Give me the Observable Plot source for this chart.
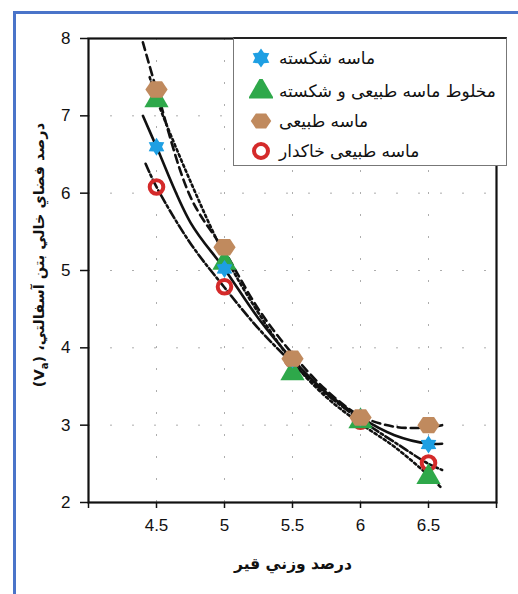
<!DOCTYPE html>
<html><head><meta charset="utf-8">
<script src="https://cdn.jsdelivr.net/npm/d3@7"></script>
<script src="https://cdn.jsdelivr.net/npm/@observablehq/plot@0.6"></script>
<style>
body{margin:0;background:#fff;width:518px;height:594px;overflow:hidden;position:relative;}
#bframe{position:absolute;left:13px;top:11px;width:520px;height:600px;border-left:3px solid #4a74c9;border-top:3px solid #4a74c9;}
#chart{position:absolute;left:0;top:0;}
#legend{position:absolute;left:233px;top:37px;width:274px;height:129px;background:#fff;border:1px solid #777;border-top:2px solid #222;box-sizing:border-box;}
.row{position:absolute;left:0;height:24px;display:flex;align-items:center;}
.row span{font-family:"DejaVu Sans",sans-serif;font-size:17px;color:#111;margin-left:6px;}
</style></head>
<body>
<div id="bframe"></div>
<div id="chart"></div>
<div id="legend"></div>
<script>
// ---- data ----
const bitumen = [4.5, 5, 5.5, 6, 6.5];
const crushed = [6.6, 5.02, 3.85, 3.1, 2.75];
const mixed   = [7.2, 5.1, 3.67, 3.05, 2.33];
const natural = [7.34, 5.3, 3.86, 3.1, 3.0];
const clayey  = [6.08, 4.79, 3.85, 3.05, 2.51];

const crushedFitX = [4.4, 4.5, 4.75, 5, 5.25, 5.5, 5.75, 6, 6.25, 6.5, 6.6];
const crushedFitY = [7.0, 6.6, 5.62, 5.02, 4.38, 3.85, 3.42, 3.1, 2.87, 2.76, 2.76];
const mixedFitX   = [4.45, 4.5, 4.75, 5, 5.25, 5.5, 5.75, 6, 6.25, 6.5, 6.6];
const mixedFitY   = [7.5, 7.22, 6.15, 5.2, 4.45, 3.82, 3.36, 3.02, 2.72, 2.35, 2.18];
const naturalFitX = [4.4, 4.5, 4.75, 5, 5.25, 5.5, 5.75, 6, 6.25, 6.5, 6.6];
const naturalFitY = [7.95, 7.34, 5.95, 5.25, 4.5, 3.92, 3.45, 3.12, 2.98, 2.97, 3.0];
const clayeyFitX  = [4.42, 4.5, 4.75, 5, 5.25, 5.5, 5.75, 6, 6.25, 6.5, 6.6];
const clayeyFitY  = [6.38, 6.08, 5.35, 4.78, 4.25, 3.8, 3.4, 3.07, 2.78, 2.5, 2.42];

const xTicks = [4, 4.5, 5, 5.5, 6, 6.5, 7];
const yTicks = [2, 3, 4, 5, 6, 7, 8];
const seriesNames = ["ماسه شکسته", "مخلوط ماسه طبیعی و شکسته", "ماسه طبیعی", "ماسه طبیعی خاکدار"];
const xTitle = "درصد وزني قير";
const yTitle = "درصد فضاي خالي بتن آسفالتي،";

const colors = {crushed:"#1e9fe3", mixed:"#2ea84a", natural:"#c08a5e", clayey:"#d42a2a"};

const hexagram = {draw(ctx, size){
  const R = Math.sqrt(size/Math.PI)*1.2, r = R*0.62;
  for(let i=0;i<12;i++){const a=i*Math.PI/6 - Math.PI/2; const rr=i%2?r:R;
    const px=rr*Math.cos(a), py=rr*Math.sin(a); if(i===0) ctx.moveTo(px,py); else ctx.lineTo(px,py);}
  ctx.closePath();
}};
const flatHex = {draw(ctx, size){
  const R = Math.sqrt(size/Math.PI);
  for(let i=0;i<6;i++){const a=i*Math.PI/3; const px=R*1.08*Math.cos(a), py=R*0.92*Math.sin(a);
    if(i===0) ctx.moveTo(px,py); else ctx.lineTo(px,py);}
  ctx.closePath();
}};

const pts = (ys) => bitumen.map((x,i)=>({x, y:ys[i]}));
const fit = (xs, ys) => xs.map((x,i)=>({x, y:ys[i]}));
const lineOpts = {x:"x", y:"y", curve:"catmull-rom", stroke:"#111", strokeWidth:2.6};

const chart = Plot.plot({
  width:518, height:594, marginLeft:88, marginRight:22, marginTop:38, marginBottom:92,
  style:{fontFamily:"'Liberation Sans', Arial, sans-serif", fontSize:"17px", background:"transparent", color:"#111"},
  x:{domain:[4,7]}, y:{domain:[2,8]},
  marks:[
    Plot.gridX([4.5,5,5.5,6,6.5], {stroke:"#999", strokeOpacity:0.8, strokeDasharray:"2,20"}),
    Plot.gridY([3,4,5,6,7], {stroke:"#999", strokeOpacity:0.8, strokeDasharray:"2,20"}),
    Plot.axisX({ticks:xTicks, tickFormat:d => (d===4||d===7) ? "" : String(d), tickSize:6, tickPadding:10, label:null, strokeWidth:1.5}),
    Plot.axisY({ticks:yTicks, tickFormat:d=>String(d), tickSize:8, tickPadding:10, label:null, strokeWidth:1.5}),
    Plot.line(fit(naturalFitX, naturalFitY), {...lineOpts, strokeDasharray:"8,5"}),
    Plot.line(fit(mixedFitX, mixedFitY), {...lineOpts, strokeDasharray:"2.5,3"}),
    Plot.line(fit(crushedFitX, crushedFitY), {...lineOpts}),
    Plot.line(fit(clayeyFitX, clayeyFitY), {...lineOpts, strokeDasharray:"9,3,2.5,3"}),
    Plot.dot(pts(clayey), {x:"x", y:"y", r:6.8, stroke:colors.clayey, strokeWidth:4, fill:"none"}),
    Plot.dot(pts(mixed), {x:"x", y:"y", r:9, symbol:"triangle", fill:colors.mixed, stroke:"none"}),
    Plot.dot(pts(crushed), {x:"x", y:"y", r:7.5, symbol:hexagram, fill:colors.crushed, stroke:"none"}),
    Plot.dot(pts(natural), {x:"x", y:"y", r:10.3, symbol:flatHex, fill:colors.natural, stroke:"none"}),
    Plot.frame({stroke:"#111", strokeWidth:2.2})
  ]
});
document.getElementById("chart").appendChild(chart);

const svg = d3.select(chart);
svg.append("text")
  .attr("x", 293).attr("y", 569).attr("text-anchor","middle")
  .attr("font-family","'DejaVu Sans', sans-serif").attr("font-weight","bold").attr("font-size",15.5)
  .attr("fill","#111").attr("direction","rtl").text(xTitle);
const yt = svg.append("text")
  .attr("transform","translate(44,255) rotate(-90)").attr("text-anchor","middle")
  .attr("font-family","'DejaVu Sans', sans-serif").attr("font-weight","bold").attr("font-size",14.5)
  .attr("fill","#111").attr("direction","ltr");
yt.append("tspan").text("(V");
yt.append("tspan").attr("font-size",10).attr("dy",4).text("a");
yt.append("tspan").attr("dy",-4).text(") " + yTitle + "\u200F");

// legend
const leg = d3.select("#legend");
const legSyms = [
  {sym:hexagram, r:8, fill:colors.crushed, stroke:"none", sw:0},
  {sym:d3.symbolTriangle, r:9.5, fill:colors.mixed, stroke:"none", sw:0},
  {sym:flatHex, r:9.5, fill:colors.natural, stroke:"none", sw:0},
  {sym:d3.symbolCircle, r:7, fill:"none", stroke:colors.clayey, sw:4}
];
const rowTops = [7, 40, 70, 100];
seriesNames.forEach((name,i)=>{
  const row = leg.append("div").attr("class","row").style("top", rowTops[i]+"px").style("left","15px");
  const s = row.append("svg").attr("width",24).attr("height",24);
  const o = legSyms[i];
  const d = d3.symbol(o.sym, o.r*o.r*Math.PI)();
  s.append("path").attr("transform","translate(12,12)").attr("d",d)
    .attr("fill",o.fill).attr("stroke",o.stroke).attr("stroke-width",o.sw);
  row.append("span").attr("dir","rtl").text(name);
});
</script>
</body></html>
